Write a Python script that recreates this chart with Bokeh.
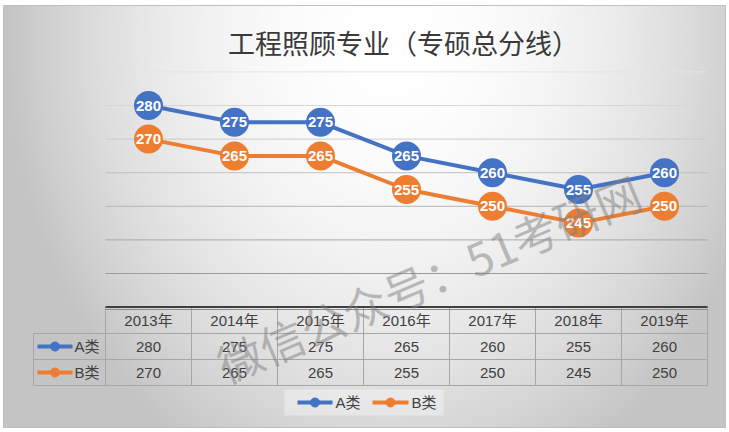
import numpy as np
from bokeh.plotting import figure
from bokeh.models import Range1d
from bokeh.core.properties import value
from bokeh.embed import file_html
from bokeh.resources import INLINE

# ---------------- data ----------------
title_text = "工程照顾专业（专硕总分线）"
years = ["2013年", "2014年", "2015年", "2016年", "2017年", "2018年", "2019年"]
series_names = ["A类", "B类"]
a_values = [280, 275, 275, 265, 260, 255, 260]
b_values = [270, 265, 265, 255, 250, 245, 250]
grid_ticks = [230, 240, 250, 260, 270, 280, 290]
axis_value = 220
watermark_text = "微信公众号：51考研网"

# ---------------- styles ----------------
BLUE = "#4472C4"
ORANGE = "#ED7D31"
TXT = "#404040"
GRID_COLORS = ["#9c9c9c", "#a8a8a8", "#b4b4b4", "#c0c0c0", "#cccccc", "#d6d6d6", "#e4e4e4"]
CJK = "Noto Sans CJK SC"
LAT = "Liberation Sans"
MIX = "Liberation Sans, Noto Sans CJK SC"

# ---------------- geometry ----------------
W, H = 729, 432
OFF = 0
FRAME = (3, 5, 725, 427)            # outer chart box (page px)
PLOT_L, PLOT_R = 105, 707           # page px of plot area
CAT_W = (PLOT_R - PLOT_L) / len(years)
REF_PAGE_Y, REF_VAL, PX_PER_UNIT = 105, 280, 3.36


def PX(page_x):
    return page_x - OFF


def PY(page_y):
    return (H + OFF) - page_y


x_start = -(PLOT_L - OFF) / CAT_W
x_end = (W - (PLOT_L - OFF)) / CAT_W
y_end = REF_VAL + (REF_PAGE_Y - OFF) / PX_PER_UNIT
y_start = REF_VAL - (H - (REF_PAGE_Y - OFF)) / PX_PER_UNIT

p = figure(width=W, height=H, x_range=Range1d(x_start, x_end),
           y_range=Range1d(y_start, y_end), output_backend="svg",
           toolbar_location=None, x_axis_location=None, y_axis_location=None,
           min_border=0)
p.grid.visible = False
p.outline_line_color = None
p.background_fill_color = "white"
p.border_fill_color = "white"
p.extra_x_ranges = {"px": Range1d(0, W)}
p.extra_y_ranges = {"py": Range1d(0, H)}

# ---------------- background gradient ----------------
fx0, fy0, fx1, fy1 = FRAME
BW, BH = fx1 - fx0, fy1 - fy0
jj, ii = np.meshgrid(np.arange(BW), np.arange(BH))
gx = fx0 + jj + 0.5
gy = fy1 - (ii + 0.5)
t = np.sqrt(((gx - 390) / 390.0) ** 2 + ((gy - 40) / 480.0) ** 2)
v = 255 - 60 * np.clip(t, 0, 1) ** 2
v = np.clip(v, 196, 255).astype(np.uint8)
img = np.empty((BH, BW), dtype=np.uint32)
view = img.view(dtype=np.uint8).reshape((BH, BW, 4))
view[..., 0] = v
view[..., 1] = v
view[..., 2] = v
view[..., 3] = 255
p.image_rgba(image=[img], x=PX(fx0), y=PY(fy1), dw=BW, dh=BH,
             x_range_name="px", y_range_name="py")
p.rect(x=[PX((fx0 + fx1) / 2)], y=[PY((fy0 + fy1) / 2)], width=BW, height=BH,
       x_range_name="px", y_range_name="py", fill_color=None,
       line_color="#bfbfbf", line_width=1)

# ---------------- gridlines ----------------
n = len(years)
p.segment(x0=[0] * len(grid_ticks), x1=[n] * len(grid_ticks), y0=grid_ticks, y1=grid_ticks,
          line_color=GRID_COLORS, line_width=1)

# ---------------- table ----------------
TBL_TOP = 307
ROW_Y = [320, 346, 372]
ROW_LINES = [333, 359, 385]
LBL_L = 33
LINE_C = "#a6a6a6"

p.segment(x0=list(range(n + 1)), x1=list(range(n + 1)),
          y0=[PY(TBL_TOP)] * (n + 1), y1=[PY(ROW_LINES[-1])] * (n + 1),
          y_range_name="py", line_color=LINE_C, line_width=1)
p.segment(x0=[PX(LBL_L)], x1=[PX(LBL_L)], y0=[PY(ROW_LINES[0])], y1=[PY(ROW_LINES[-1])],
          x_range_name="px", y_range_name="py", line_color=LINE_C, line_width=1)
p.segment(x0=[PX(LBL_L)] * 3, x1=[PX(PLOT_R)] * 3, y0=[PY(y) for y in ROW_LINES],
          y1=[PY(y) for y in ROW_LINES], x_range_name="px", y_range_name="py",
          line_color=LINE_C, line_width=1)
p.segment(x0=[0], x1=[n], y0=[axis_value], y1=[axis_value], line_color="#3f3f3f", line_width=2)
p.segment(x0=[PX(PLOT_L)], x1=[PX(PLOT_R)], y0=[PY(309)], y1=[PY(309)],
          x_range_name="px", y_range_name="py", line_color="#8c8c8c", line_width=1)

xc = [i + 0.5 for i in range(n)]
p.text(x=xc, y=[PY(ROW_Y[0])] * n, text=years, y_range_name="py",
       text_font=value(MIX), text_font_size="15px", text_color=TXT,
       text_align="center", text_baseline="middle")
for row, vals in zip(ROW_Y[1:], [a_values, b_values]):
    p.text(x=xc, y=[PY(row)] * n, text=[str(v_) for v_ in vals], y_range_name="py",
           text_font=value(LAT), text_font_size="15px", text_color=TXT,
           text_align="center", text_baseline="middle")

for row, name, col in zip(ROW_Y[1:], series_names, [BLUE, ORANGE]):
    p.segment(x0=[PX(37)], x1=[PX(72)], y0=[PY(row)], y1=[PY(row)],
              x_range_name="px", y_range_name="py", line_color=col, line_width=4)
    p.scatter(x=[PX(54.5)], y=[PY(row)], size=9, color=col,
              x_range_name="px", y_range_name="py")
    p.text(x=[PX(74)], y=[PY(row)], text=[name], x_range_name="px", y_range_name="py",
           text_font=value(MIX), text_font_size="15px", text_color=TXT,
           text_align="left", text_baseline="middle")

# ---------------- series ----------------
for vals, col in zip([a_values, b_values], [BLUE, ORANGE]):
    p.line(x=xc, y=vals, line_color=col, line_width=4)
for vals, col in zip([a_values, b_values], [BLUE, ORANGE]):
    p.scatter(x=xc, y=vals, size=29, fill_color=col, line_color=None)
    p.text(x=xc, y=vals, text=[str(v_) for v_ in vals], text_font=value(LAT),
           text_font_size="15px", text_font_style="bold", text_color="white",
           text_align="center", text_baseline="middle")

# ---------------- title ----------------
p.text(x=[PX(403)], y=[PY(42)], text=[title_text], x_range_name="px", y_range_name="py",
       text_font=value(CJK), text_font_size="27px", text_color="#3a3a3a",
       text_align="center", text_baseline="middle")

# ---------------- legend ----------------
p.rect(x=[PX(363.5)], y=[PY(402)], width=159, height=26, x_range_name="px", y_range_name="py",
       fill_color="white", fill_alpha=0.35, line_color=None)
for x0, x1, dx, tx, name, col in [(297, 332, 314.5, 335, series_names[0], BLUE),
                                   (372, 408, 390, 411, series_names[1], ORANGE)]:
    p.segment(x0=[PX(x0)], x1=[PX(x1)], y0=[PY(402)], y1=[PY(402)],
              x_range_name="px", y_range_name="py", line_color=col, line_width=4)
    p.scatter(x=[PX(dx)], y=[PY(402)], size=9, color=col, x_range_name="px", y_range_name="py")
    p.text(x=[PX(tx)], y=[PY(402)], text=[name], x_range_name="px", y_range_name="py",
           text_font=value(MIX), text_font_size="15px", text_color=TXT,
           text_align="left", text_baseline="middle")

# ---------------- watermark ----------------
p.text(x=[PX(428)], y=[PY(277)], text=[watermark_text], x_range_name="px", y_range_name="py",
       angle=np.deg2rad(23), text_font=value(CJK), text_font_size="45px",
       text_color="#808080", text_alpha=0.5, text_align="center", text_baseline="middle")

open("out.html", "w").write(file_html(p, INLINE))
